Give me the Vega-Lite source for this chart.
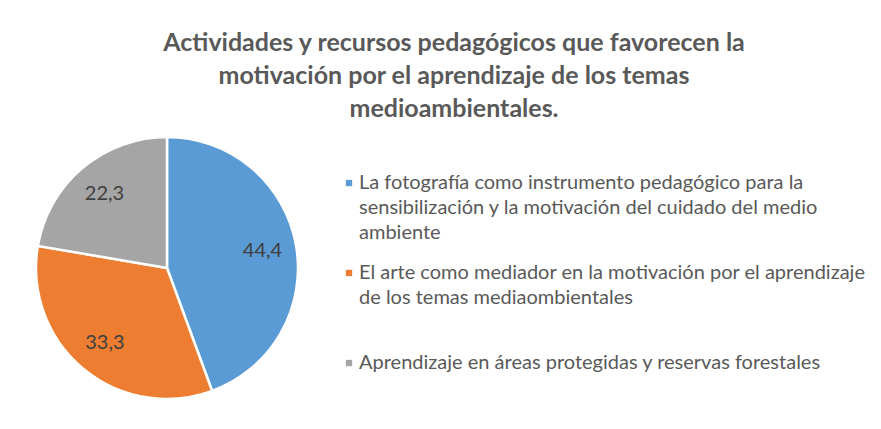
{
  "$schema": "https://vega.github.io/schema/vega-lite/v6.json",
  "width": 262,
  "height": 262,
  "padding": {"left": 31, "top": 31, "right": 0, "bottom": 0},
  "background": "#ffffff",
  "title": {
    "text": ["Actividades y recursos pedagógicos que favorecen la", "motivación por el aprendizaje de los temas", "medioambientales."],
    "font": "Lato",
    "fontSize": 25,
    "fontWeight": "bold",
    "color": "#595959",
    "lineHeight": 33,
    "anchor": "start",
    "align": "center",
    "dx": 423,
    "offset": 10
  },
  "data": {
    "values": [
      {"Actividad": "La fotografía como instrumento pedagógico para la sensibilización y la motivación del cuidado del medio ambiente", "Porcentaje": 44.4},
      {"Actividad": "El arte como mediador en la motivación por el aprendizaje de los temas mediaombientales", "Porcentaje": 33.3},
      {"Actividad": "Aprendizaje en áreas protegidas y reservas forestales", "Porcentaje": 22.3}
    ]
  },
  "encoding": {
    "theta": {"field": "Porcentaje", "type": "quantitative", "stack": true},
    "order": {"field": "Actividad", "sort": "descending"}
  },
  "layer": [
    {
      "mark": {"type": "arc", "stroke": "#ffffff", "strokeWidth": 2.5},
      "encoding": {
        "color": {
          "field": "Actividad",
          "type": "nominal",
          "scale": {
            "domain": [
              "La fotografía como instrumento pedagógico para la sensibilización y la motivación del cuidado del medio ambiente",
              "El arte como mediador en la motivación por el aprendizaje de los temas mediaombientales",
              "Aprendizaje en áreas protegidas y reservas forestales"
            ],
            "range": ["#5B9BD5", "#ED7D31", "#A5A5A5"]
          },
          "legend": {
            "title": null,
            "orient": "none",
            "legendX": 303,
            "legendY": 36,
            "symbolType": "square",
            "symbolSize": 40,
            "symbolStrokeWidth": 0,
            "labelFont": "Lato",
            "labelFontSize": 20,
            "labelColor": "#595959",
            "labelLimit": 0,
            "labelBaseline": "middle",
            "labelOffset": 0,
            "rowPadding": 20,
            "labelExpr": "indexof(datum.label, 'La foto') == 0 ? ['La fotografía como instrumento pedagógico para la', 'sensibilización y la motivación del cuidado del medio', 'ambiente'] : indexof(datum.label, 'El arte') == 0 ? ['El arte como mediador en la motivación por el aprendizaje', 'de los temas mediaombientales', ''] : ['Aprendizaje en áreas protegidas y reservas forestales']"
          }
        }
      }
    },
    {
      "mark": {"type": "text", "radius": 97, "font": "Lato", "fontSize": 20},
      "encoding": {
        "text": {"field": "Porcentaje", "type": "quantitative", "format": ".1f"},
        "color": {"value": "#404040"}
      }
    }
  ],
  "config": {
    "view": {"stroke": null},
    "locale": {"number": {"decimal": ",", "thousands": ".", "grouping": [3], "currency": ["", " €"]}},
    "style": {"guide-label": {"lineHeight": 25}}
  }
}
